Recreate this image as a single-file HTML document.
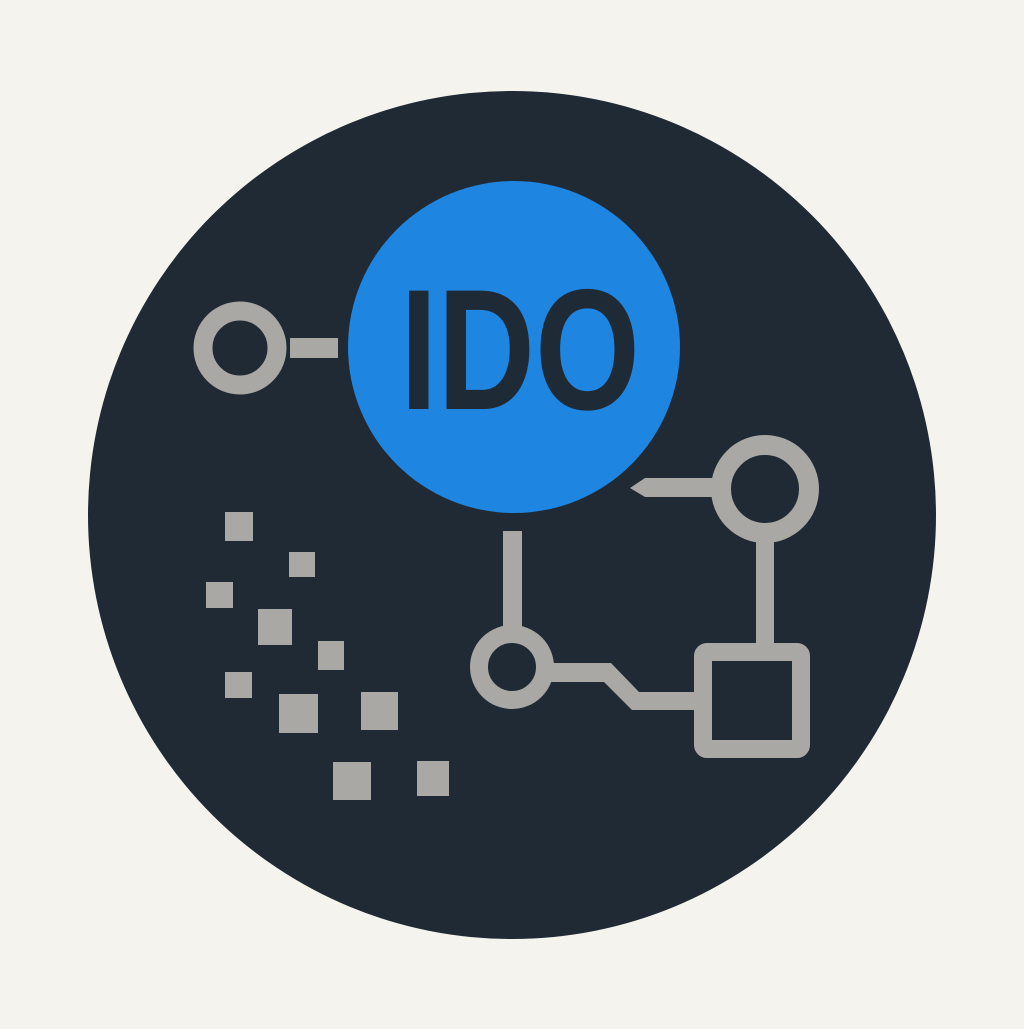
<!DOCTYPE html>
<html><head><style>html,body{margin:0;padding:0;background:#f5f3ee}</style></head>
<body>
<svg width="1024" height="1024" viewBox="0 0 1024 1024" xmlns="http://www.w3.org/2000/svg">
<rect width="1024" height="1024" fill="#f5f3ee"/>
<circle cx="512" cy="515" r="424" fill="#1f2a35"/>
<g fill="#a9a8a5">
<rect x="225" y="512" width="28" height="29"/>
<rect x="289" y="552" width="26" height="25"/>
<rect x="206" y="582" width="27" height="26"/>
<rect x="258" y="609" width="34" height="36"/>
<rect x="318" y="641" width="26" height="29"/>
<rect x="225" y="672" width="27" height="26"/>
<rect x="279" y="694" width="39" height="39"/>
<rect x="361" y="692" width="37" height="38"/>
<rect x="333" y="762" width="38" height="38"/>
<rect x="417" y="761" width="32" height="35"/>
<rect x="290" y="338" width="48" height="20"/>
<rect x="503" y="531" width="19" height="96"/>
<rect x="756" y="530" width="18" height="118"/>
<path d="M630 488 L645 478 L720 478 L720 497 L645 497 Z"/>
<path d="M550 663 L611 663 L639 692 L700 692 L700 710 L632 710 L604 682 L550 682 Z"/>
</g>
<g fill="none" stroke="#a9a8a5">
<circle cx="240" cy="348" r="37" stroke-width="19"/>
<circle cx="765" cy="489" r="44" stroke-width="20"/>
<circle cx="512" cy="667" r="33" stroke-width="18"/>
<rect x="703" y="652" width="98" height="97" rx="4" stroke-width="18"/>
</g>
<circle cx="514" cy="347" r="166" fill="#1e85e0"/>
<text x="520" y="409" text-anchor="middle" font-family="'Liberation Sans Narrow','Liberation Sans',sans-serif" font-weight="bold" font-size="172" fill="#1e2a35" textLength="240" lengthAdjust="spacingAndGlyphs">IDO</text>
</svg>
</body></html>
